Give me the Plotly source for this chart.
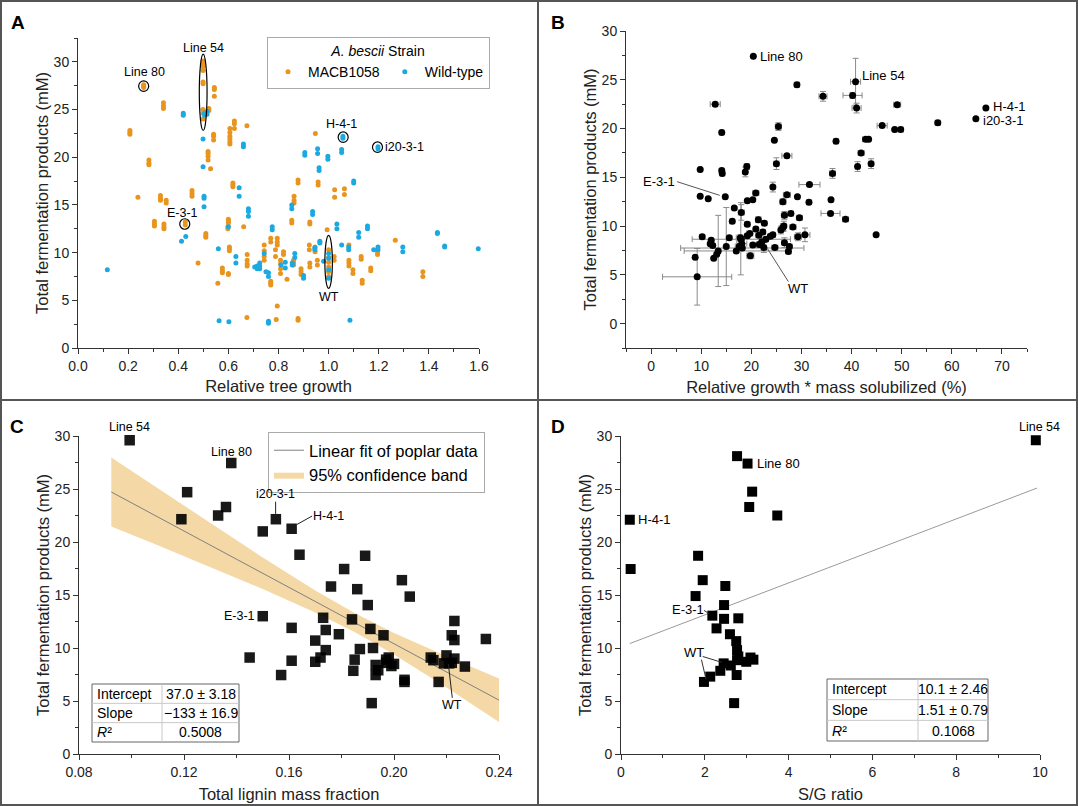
import plotly.graph_objects as go

W, H = 1078, 806
FONT = "Liberation Sans, Arial, sans-serif"
ORANGE = "#E9941D"
BLUE = "#1CA9E1"
AXC = "#333333"


def px(v):
    return v / W


def py(v):
    return 1 - v / H


# ---------------- Panel A data ----------------
a_mac_x = [
    0.207, 0.207, 0.207,
    0.239,
    0.262, 0.262, 0.262,
    0.283, 0.283, 0.283,
    0.305, 0.305, 0.305,
    0.329, 0.329, 0.329,
    0.341, 0.341, 0.341,
    0.343, 0.343, 0.343,
    0.352, 0.352,
    0.428, 0.428,
    0.455, 0.455, 0.455,
    0.479,
    0.499, 0.499, 0.499, 0.499, 0.499, 0.499, 0.499, 0.499, 0.499,
    0.522, 0.522,
    0.544, 0.544, 0.544,
    0.541, 0.541, 0.541,
    0.519, 0.519, 0.519, 0.519,
    0.529,
    0.510, 0.510, 0.510,
    0.558,
    0.576, 0.576, 0.576,
    0.600, 0.600, 0.600,
    0.598, 0.598,
    0.604, 0.604, 0.604,
    0.600, 0.600,
    0.606, 0.606, 0.606, 0.606, 0.606, 0.606,
    0.624, 0.624, 0.624,
    0.618, 0.618, 0.618,
    0.661,
    0.674,
    0.675, 0.675, 0.675, 0.675,
    0.674,
    0.743, 0.743, 0.743, 0.743,
    0.769, 0.769,
    0.795, 0.795, 0.795,
    0.788, 0.788,
    0.769, 0.769, 0.769,
    0.808, 0.808, 0.808, 0.808,
    0.820, 0.820,
    0.834,
    0.795,
    0.791,
    0.878, 0.878,
    0.862, 0.862, 0.862,
    0.853, 0.853,
    0.878, 0.878,
    0.860, 0.860, 0.860,
    0.890, 0.890, 0.890,
    0.923, 0.923,
    0.925, 0.925,
    0.958, 0.958,
    0.925, 0.925,
    0.946, 0.946,
    0.955, 0.955,
    0.947,
    0.994,
    1.000, 1.000, 1.000, 1.000, 1.000, 1.000,
    1.022, 1.022,
    1.024, 1.024,
    1.063, 1.063,
    1.081, 1.081, 1.081, 1.081,
    1.097, 1.097,
    1.130, 1.130,
    1.134, 1.134,
    1.168, 1.168,
    1.195, 1.195,
    1.266,
    1.376, 1.376,
]
a_mac_y = [
    22.8, 22.6, 22.4,
    15.8,
    27.3, 27.5, 27.6,
    19.7, 19.4, 19.2,
    13.3, 13.0, 12.8,
    16.0, 15.7, 15.5,
    25.7, 25.4, 25.1,
    13.0, 12.7, 12.5,
    15.5, 15.2,
    13.2, 12.9,
    16.5, 16.2, 15.9,
    8.9,
    30.1, 29.8, 29.5, 29.1, 27.9, 27.7, 25.0, 24.6, 24.0,
    25.1, 24.9,
    27.3, 27.1, 26.4,
    22.4, 22.2, 21.8,
    20.6, 20.4, 20.1, 19.7,
    18.8,
    12.0, 11.8, 11.6,
    6.8,
    8.4, 8.1, 7.9,
    13.5, 13.3, 13.1,
    12.7, 12.5,
    10.6, 10.4, 10.2,
    7.8, 7.7,
    23.0, 22.6, 22.2, 21.9, 21.6, 21.4,
    23.8, 23.5, 23.0,
    17.3, 17.1, 16.9,
    12.7,
    23.3,
    9.8, 9.2, 8.8, 8.6,
    3.2,
    10.8, 10.2, 9.6, 9.2,
    11.5, 11.1,
    11.5, 11.1, 10.8,
    10.3, 9.6,
    7.0, 6.8, 6.6,
    9.2, 8.8, 8.3, 7.8,
    10.1, 9.8,
    7.2,
    4.4,
    3.0,
    17.6, 17.3,
    15.9, 15.5, 15.2,
    13.4, 13.1,
    3.1, 2.9,
    9.2, 8.9, 8.7,
    8.3, 8.0, 7.7,
    10.8, 10.3,
    8.9, 8.5,
    17.4, 17.1,
    13.2, 13.0,
    10.6, 10.1,
    9.2, 8.7,
    22.5,
    12.4,
    10.3, 9.5, 9.0, 8.5, 8.0, 7.5,
    9.6, 9.2,
    16.6, 15.8,
    16.7, 16.1,
    10.8, 9.2, 8.9, 8.6,
    8.2, 7.8,
    9.6, 9.3,
    7.1, 6.8,
    8.4, 8.1,
    10.0, 9.8,
    11.3,
    8.0, 7.5,
]

a_wt_x = [
    0.117,
    0.420, 0.420,
    0.413,
    0.430,
    0.499, 0.499,
    0.503, 0.503, 0.503,
    0.505, 0.505,
    0.515, 0.515,
    0.560,
    0.563,
    0.602,
    0.600,
    0.630, 0.630,
    0.643, 0.643,
    0.660, 0.660,
    0.680, 0.680, 0.680,
    0.705,
    0.715, 0.715,
    0.725, 0.725, 0.725,
    0.743,
    0.750,
    0.760, 0.760,
    0.760, 0.760,
    0.775, 0.775,
    0.810,
    0.827, 0.827,
    0.853, 0.853,
    0.855, 0.855,
    0.865, 0.865,
    0.900, 0.900,
    0.905, 0.905,
    0.936, 0.936,
    0.945, 0.945,
    0.956, 0.956,
    0.962, 0.962,
    0.965, 0.965,
    0.980,
    0.997, 0.997,
    1.000, 1.000, 1.000, 1.000,
    1.033, 1.033,
    1.052, 1.052,
    1.057, 1.057,
    1.052,
    1.080, 1.080,
    1.085,
    1.100, 1.100,
    1.120, 1.120,
    1.155, 1.155,
    1.180,
    1.197, 1.197,
    1.197, 1.197,
    1.296, 1.296,
    1.434, 1.434,
    1.463, 1.463,
    1.597,
]
a_wt_y = [
    8.2,
    24.6, 24.4,
    11.2,
    11.7,
    21.9, 19.0,
    15.9, 15.7, 14.8,
    24.6, 24.4,
    24.8, 24.5,
    10.4,
    2.85,
    2.75,
    12.7,
    9.6, 8.9,
    16.8, 15.9,
    21.4, 21.1,
    14.6, 14.3, 13.8,
    8.5,
    8.6, 8.3,
    8.9, 8.6, 8.3,
    9.9,
    8.0,
    7.9, 7.5,
    2.8, 2.6,
    12.7, 12.4,
    8.7,
    9.0, 8.4,
    15.0, 14.6,
    8.9, 8.7,
    9.9, 9.5,
    7.6, 7.3,
    20.5, 20.2,
    14.3, 14.0,
    10.5, 10.3,
    20.9, 20.4,
    18.9, 18.6,
    11.2, 11.0,
    9.1,
    20.1, 19.8,
    9.9, 9.4, 8.2, 7.3,
    13.0, 12.5,
    20.8, 20.5,
    22.2, 22.0,
    10.8,
    10.6, 10.3,
    2.9,
    17.5, 17.3,
    12.1, 11.6,
    12.8, 12.5,
    10.3,
    21.1, 20.9,
    10.6, 10.3,
    10.6, 10.1,
    12.1, 12.0,
    10.7, 10.6,
    10.4,
]

# ---------------- Panel B data ----------------
b_x = [20.4, 29.1, 40.8, 34.3, 40.2, 41.0, 49.1, 12.8, 66.8, 64.8,
       57.2, 46.1, 48.6, 49.8, 25.4, 14.1, 36.9, 24.6, 42.8, 43.4,
       27.1, 41.9, 25.0, 43.9, 41.2, 19.1, 18.8, 9.8, 14.1, 14.2,
       36.2, 31.6, 24.3, 9.8, 11.4, 14.8, 20.9, 27.1, 29.2, 19.2,
       20.3, 26.3, 31.5, 35.9, 35.8, 38.8, 44.9, 16.6, 18.0, 16.2,
       15.6, 13.4, 15.0, 17.9, 9.2, 18.0, 18.2, 17.0, 10.2, 12.0,
       12.3, 11.8, 12.5, 13.1, 8.8, 17.8, 18.1, 17.6, 19.2, 19.2,
       19.7, 19.8, 20.3, 20.9, 21.4, 21.5, 21.6, 22.1, 22.3, 22.6,
       22.5, 22.9, 23.8, 24.3, 24.7, 25.9, 26.3, 26.5, 26.6, 27.9,
       28.3, 26.6, 27.6, 27.4, 29.6, 29.3, 30.7]
b_y = [27.4, 24.5, 24.8, 23.3, 23.4, 22.1, 22.45, 22.5, 22.1, 21.0,
       20.6, 20.3, 19.9, 19.9, 20.2, 19.6, 18.7, 18.8, 18.9, 18.9,
       17.2, 17.5, 16.4, 16.4, 16.1, 16.1, 15.55, 15.8, 15.7, 15.4,
       15.4, 14.25, 14.0, 13.05, 12.8, 13.0, 13.4, 13.2, 13.0, 12.6,
       12.7, 12.5, 12.45, 12.7, 11.3, 10.7, 9.1, 11.85, 11.4, 10.5,
       8.8, 7.45, 7.9, 8.7, 4.8, 8.65, 7.75, 7.45, 8.9, 8.55,
       8.0, 8.2, 6.7, 7.1, 6.8, 8.8, 8.2, 7.9, 10.2, 9.0,
       9.25, 6.95, 8.05, 9.7, 10.65, 9.05, 8.1, 8.4, 9.4, 10.3,
       7.8, 8.65, 8.95, 9.1, 7.8, 9.6, 9.85, 10.0, 11.1, 11.3,
       9.9, 8.3, 7.9, 7.4, 10.85, 8.9, 9.1]
b_ex = [0.0, 0.5, 1.0, 0.8, 1.9, 0.9, 0.7, 1.0, 0.3, 0.0,
        0.5, 1.0, 0.3, 0.5, 0.6, 0.4, 0.5, 0.3, 0.6, 0.4,
        1.0, 0.6, 0.5, 0.5, 0.4, 0.5, 0.4, 0.3, 0.4, 0.4,
        0.6, 2.1, 0.4, 0.3, 0.3, 0.3, 0.6, 0.7, 0.3, 0.4,
        0.3, 0.6, 0.4, 0.3, 1.9, 0.6, 0.3, 0.3, 0.6, 0.4,
        0.5, 0.4, 0.4, 0.5, 6.9, 9.8, 12.3, 10.4, 0.5, 0.4,
        0.4, 0.3, 0.3, 0.3, 0.3, 0.8, 1.0, 0.8, 0.5, 0.5,
        0.6, 0.7, 0.5, 0.4, 0.5, 0.6, 0.6, 0.5, 0.5, 0.5,
        0.5, 0.5, 0.5, 0.5, 0.6, 0.5, 0.5, 0.5, 0.6, 0.5,
        0.6, 0.5, 0.5, 0.5, 0.6, 0.7, 1.0]
b_ey = [0.0, 0.2, 2.4, 0.5, 0.3, 0.5, 0.2, 0.2, 0.0, 0.0,
        0.2, 0.2, 0.1, 0.2, 0.4, 0.2, 0.2, 0.1, 0.1, 0.1,
        0.2, 0.2, 0.6, 0.5, 0.5, 0.3, 0.5, 0.1, 0.2, 0.2,
        0.5, 0.2, 0.5, 0.1, 0.1, 0.1, 0.2, 0.2, 0.1, 0.1,
        0.1, 0.3, 0.2, 0.1, 0.2, 0.1, 0.1, 0.1, 0.8, 0.2,
        0.2, 3.65, 4.0, 3.7, 2.9, 0.2, 0.2, 0.2, 0.2, 0.2,
        0.2, 0.1, 0.1, 0.1, 0.1, 0.3, 0.3, 0.2, 0.2, 0.2,
        0.2, 0.3, 0.2, 0.2, 0.3, 0.2, 0.3, 0.2, 0.2, 0.2,
        0.5, 0.2, 0.2, 0.2, 0.2, 0.4, 0.4, 0.5, 0.4, 0.2,
        0.2, 0.5, 0.2, 0.2, 0.2, 0.4, 0.7]

# ---------------- Panel C data ----------------
c_x = [0.0993, 0.138, 0.1212, 0.119, 0.136, 0.133, 0.155, 0.161, 0.150, 0.164,
       0.189, 0.181, 0.176, 0.186, 0.203, 0.206, 0.190, 0.150, 0.173, 0.184,
       0.161, 0.174, 0.179, 0.191, 0.196, 0.170, 0.174, 0.187, 0.192, 0.223,
       0.222, 0.223, 0.235, 0.145, 0.161, 0.170, 0.172, 0.157, 0.185, 0.1845,
       0.193, 0.193, 0.194, 0.197, 0.198, 0.197, 0.199, 0.200, 0.1915, 0.204,
       0.204, 0.214, 0.215, 0.217, 0.220, 0.219, 0.221, 0.222, 0.223, 0.227]
c_y = [29.6, 27.45, 24.7, 22.15, 23.3, 22.5, 22.15, 21.25, 21.0, 18.8,
       18.7, 17.45, 15.8, 15.55, 16.4, 14.85, 14.05, 13.0, 12.85, 12.7,
       11.9, 11.7, 11.3, 11.8, 11.2, 10.7, 9.8, 9.9, 10.0, 12.55,
       11.2, 10.75, 10.85, 9.1, 8.8, 8.7, 9.1, 7.45, 8.9, 7.85,
       8.4, 7.45, 7.9, 8.9, 9.1, 8.6, 8.3, 8.5, 4.8, 7.0,
       6.8, 9.1, 8.85, 6.8, 9.3, 8.55, 8.55, 8.6, 9.0, 8.25]
c_fit_x = [0.0923, 0.24]
c_fit_y = [24.72, 5.08]
c_band_x = [0.0923, 0.11, 0.13, 0.15, 0.17, 0.185, 0.20, 0.22, 0.24]
c_band_lo = [21.47, 19.69, 17.65, 15.57, 13.36, 11.5, 9.38, 6.27, 3.03]
c_band_hi = [27.97, 25.05, 21.77, 18.53, 15.42, 13.3, 11.42, 9.21, 7.13]

# ---------------- Panel D data ----------------
d_x = [9.9, 2.77, 3.02, 3.13, 3.06, 3.73, 0.21, 0.23, 1.84, 1.95,
       1.78, 2.49, 2.46, 2.18, 2.46, 2.80, 2.28, 2.60, 2.75, 2.77,
       2.80, 2.77, 3.09, 3.16, 2.99, 2.45, 2.62, 2.37, 2.13, 1.98,
       2.76, 2.70]
d_y = [29.6, 28.1, 27.4, 24.75, 23.3, 22.5, 22.1, 17.45, 18.7, 16.4,
       14.9, 15.85, 14.05, 13.05, 12.75, 12.8, 11.85, 11.3, 10.65, 9.8,
       9.2, 8.85, 9.1, 8.9, 8.7, 8.55, 8.35, 7.85, 7.3, 6.8,
       7.45, 4.8]
d_fit_x = [0.21, 9.93]
d_fit_y = [10.42, 25.09]

# tables
c_table = [["Intercept", "37.0 ± 3.18"], ["Slope", "\u2212133 ± 16.9"], ["<i>R</i>²", "0.5008"]]
d_table = [["Intercept", "10.1 ± 2.46"], ["Slope", "1.51 ± 0.79"], ["<i>R</i>²", "0.1068"]]

fig = go.Figure()

# Panel A
fig.add_trace(go.Scatter(x=a_mac_x, y=a_mac_y, mode="markers", name="MACB1058",
                         marker=dict(color=ORANGE, size=5), xaxis="x", yaxis="y",
                         cliponaxis=False))
fig.add_trace(go.Scatter(x=a_wt_x, y=a_wt_y, mode="markers", name="Wild-type",
                         marker=dict(color=BLUE, size=5), xaxis="x", yaxis="y",
                         cliponaxis=False))

# Panel B
fig.add_trace(go.Scatter(x=b_x, y=b_y, mode="markers", showlegend=False,
                         marker=dict(color="black", size=7),
                         error_x=dict(type="data", array=b_ex, color="#8a8a8a", thickness=1, width=3),
                         error_y=dict(type="data", array=b_ey, color="#8a8a8a", thickness=1, width=3),
                         xaxis="x2", yaxis="y2", cliponaxis=False))

# Panel C
fig.add_trace(go.Scatter(x=c_band_x + c_band_x[::-1], y=c_band_hi + c_band_lo[::-1],
                         fill="toself", fillcolor="#F4D8A6", line=dict(width=0, color="#F4D8A6"),
                         mode="lines", name="95% confidence band", legend="legend2",
                         legendrank=2, xaxis="x3", yaxis="y3", hoverinfo="skip"))
fig.add_trace(go.Scatter(x=c_fit_x, y=c_fit_y, mode="lines", name="Linear fit of poplar data",
                         line=dict(color="#808080", width=1), legend="legend2", legendrank=1,
                         xaxis="x3", yaxis="y3"))
fig.add_trace(go.Scatter(x=c_x, y=c_y, mode="markers", showlegend=False,
                         marker=dict(color="black", size=10.5, symbol="square", opacity=0.9,
                                     line=dict(width=0)),
                         xaxis="x3", yaxis="y3", cliponaxis=False))

# Panel D
fig.add_trace(go.Scatter(x=d_fit_x, y=d_fit_y, mode="lines", showlegend=False,
                         line=dict(color="#9a9a9a", width=1), xaxis="x4", yaxis="y4"))
fig.add_trace(go.Scatter(x=d_x, y=d_y, mode="markers", showlegend=False,
                         marker=dict(color="black", size=10, symbol="square", line=dict(width=0)),
                         xaxis="x4", yaxis="y4", cliponaxis=False))


def axis(domain, anchor, rng, tickvals, minor_dtick, title, standoff, fmt=None):
    d = dict(domain=domain, anchor=anchor, range=rng, tickvals=tickvals, automargin=False,
             showline=True, linecolor=AXC, linewidth=1, ticks="outside", ticklen=5,
             tickwidth=1, tickcolor=AXC, showgrid=False, zeroline=False,
             tickfont=dict(size=14, color="#222"),
             minor=dict(ticks="outside", ticklen=3, tickcolor=AXC, dtick=minor_dtick,
                        tick0=0, showgrid=False),
             title=dict(text=title, font=dict(size=16.5, color="#222"), standoff=standoff))
    if fmt:
        d["tickformat"] = fmt
    return d


YT = "Total fermentation products (mM)"
fig.update_layout(
    xaxis=axis([px(78), px(479)], "y", [0, 1.6], [0, 0.2, 0.4, 0.6, 0.8, 1.0, 1.2, 1.4, 1.6], 0.1,
               "Relative tree growth", 7, ".1f"),
    yaxis=axis([py(348), py(38)], "x", [0, 32.5], [0, 5, 10, 15, 20, 25, 30], 2.5, YT, 0),
    xaxis2=axis([px(626), px(1027)], "y2", [-5, 75], [0, 10, 20, 30, 40, 50, 60, 70], 5,
                "Relative growth * mass solubilized (%)", 8),
    yaxis2=axis([py(348), py(31)], "x2", [-2.5, 30], [0, 5, 10, 15, 20, 25, 30], 2.5, YT, 0),
    xaxis3=axis([px(79), px(499)], "y3", [0.08, 0.24], [0.08, 0.12, 0.16, 0.20, 0.24], 0.02,
                "Total lignin mass fraction", 9, ".2f"),
    yaxis3=axis([py(754), py(436)], "x3", [0, 30], [0, 5, 10, 15, 20, 25, 30], 2.5, YT, 0),
    xaxis4=axis([px(621), px(1040)], "y4", [0, 10], [0, 2, 4, 6, 8, 10], 1, "S/G ratio", 9),
    yaxis4=axis([py(754), py(436)], "x4", [0, 30], [0, 5, 10, 15, 20, 25, 30], 2.5, YT, 0),
)

shapes = []
annotations = []

# panel frame
shapes.append(dict(type="rect", xref="paper", yref="paper", x0=px(1), y0=py(805), x1=px(1077), y1=py(1),
                   line=dict(color="#555", width=2)))
shapes.append(dict(type="line", xref="paper", yref="paper", x0=px(538), x1=px(538), y0=0, y1=1,
                   line=dict(color="#555", width=2)))
shapes.append(dict(type="line", xref="paper", yref="paper", x0=0, x1=1, y0=py(400), y1=py(400),
                   line=dict(color="#555", width=2)))

# panel letters
for t, x, y in [("A", 18, 23), ("B", 558, 23), ("C", 17, 427), ("D", 558, 427)]:
    annotations.append(dict(text="<b>%s</b>" % t, xref="paper", yref="paper", x=px(x), y=py(y),
                            showarrow=False, font=dict(size=19, color="black"),
                            xanchor="center", yanchor="middle"))


def ell(xr, yr, x0, x1, y0, y1):
    return dict(type="circle", xref=xr, yref=yr, x0=x0, x1=x1, y0=y0, y1=y1,
                line=dict(color="black", width=1.2))


shapes += [
    ell("x", "y", 0.484, 0.515, 22.8, 30.8),
    ell("x", "y", 0.242, 0.282, 26.9, 28.0),
    ell("x", "y", 0.406, 0.446, 12.45, 13.55),
    ell("x", "y", 1.038, 1.078, 21.55, 22.65),
    ell("x", "y", 1.175, 1.215, 20.5, 21.6),
    ell("x", "y", 0.985, 1.015, 6.25, 11.8),
]


def lab(xr, yr, x, y, text, xanchor="center", size=12.5, yanchor="middle", yshift=0):
    return dict(text=text, xref=xr, yref=yr, x=x, y=y, showarrow=False,
                font=dict(size=size, color="black"), xanchor=xanchor, yanchor=yanchor,
                yshift=yshift, borderpad=0)


annotations += [
    lab("x", "y", 0.266, 28.9, "Line 80"),
    lab("x", "y", 0.5, 31.45, "Line 54"),
    lab("x", "y", 1.053, 23.5, "H-4-1"),
    lab("x", "y", 1.222, 21.05, "i20-3-1", "left"),
    lab("x", "y", 0.418, 14.15, "E-3-1"),
    lab("x", "y", 1.003, 5.35, "WT"),
]

# Panel B labels
annotations += [
    lab("x2", "y2", 21.6, 27.4, "Line 80", "left", 13),
    lab("x2", "y2", 41.9, 25.45, "Line 54", "left", 13),
    lab("x2", "y2", 68.1, 22.3, "H-4-1", "left", 13),
    lab("x2", "y2", 66.1, 20.8, "i20-3-1", "left", 13),
    lab("x2", "y2", 4.9, 14.55, "E-3-1", "right", 13),
    lab("x2", "y2", 29.4, 3.6, "WT", "center", 13),
]
shapes += [
    dict(type="line", xref="x2", yref="y2", x0=5.2, y0=14.55, x1=13.7, y1=13.15,
         line=dict(color="#555", width=1)),
    dict(type="line", xref="x2", yref="y2", x0=27.4, y0=4.3, x1=23.2, y1=7.7,
         line=dict(color="#555", width=1)),
]

# Panel C labels
annotations += [
    lab("x3", "y3", 0.0993, 30.0, "Line 54", yanchor="bottom", yshift=1),
    lab("x3", "y3", 0.138, 28.5, "Line 80"),
    lab("x3", "y3", 0.1548, 24.5, "i20-3-1"),
    lab("x3", "y3", 0.1688, 22.5, "H-4-1", "left"),
    lab("x3", "y3", 0.1474, 13.0, "E-3-1", "right"),
    lab("x3", "y3", 0.2222, 4.6, "WT"),
]
shapes += [
    dict(type="line", xref="x3", yref="y3", x0=0.1549, y0=23.8, x1=0.1549, y1=22.65,
         line=dict(color="#222", width=1)),
    dict(type="line", xref="x3", yref="y3", x0=0.1688, y0=22.45, x1=0.1630, y1=21.65,
         line=dict(color="#222", width=1)),
    dict(type="line", xref="x3", yref="y3", x0=0.2222, y0=5.3, x1=0.2207, y1=8.5,
         line=dict(color="#222", width=1)),
]

# Panel D labels
annotations += [
    lab("x4", "y4", 9.98, 30.0, "Line 54", yanchor="bottom", yshift=1),
    lab("x4", "y4", 3.21, 27.4, "Line 80", "left", 13),
    lab("x4", "y4", 0.37, 22.1, "H-4-1", "left", 13),
    lab("x4", "y4", 2.0, 13.6, "E-3-1", "right", 13),
    lab("x4", "y4", 1.74, 9.55, "WT", "center", 13),
]
shapes += [
    dict(type="line", xref="x4", yref="y4", x0=1.98, y0=13.55, x1=2.1, y1=13.25,
         line=dict(color="#333", width=1)),
    dict(type="line", xref="x4", yref="y4", x0=1.95, y0=9.2, x1=2.4, y1=8.65,
         line=dict(color="#333", width=1)),
    dict(type="line", xref="x4", yref="y4", x0=1.92, y0=8.9, x1=2.03, y1=7.05,
         line=dict(color="#333", width=1)),
]


def table(rows, left, top, right, bottom, div):
    n = len(rows)
    hgt = (bottom - top) / n
    out_s = [dict(type="rect", xref="paper", yref="paper", x0=px(left), x1=px(right),
                  y0=py(bottom), y1=py(top), line=dict(color="#666", width=1), fillcolor="white",
                  layer="above")]
    out_s.append(dict(type="line", xref="paper", yref="paper", x0=px(div), x1=px(div),
                      y0=py(bottom), y1=py(top), line=dict(color="#c8c8c8", width=1)))
    out_a = []
    for i, (k, v) in enumerate(rows):
        yc = top + hgt * (i + 0.5)
        if i > 0:
            out_s.append(dict(type="line", xref="paper", yref="paper", x0=px(left), x1=px(right),
                              y0=py(top + hgt * i), y1=py(top + hgt * i),
                              line=dict(color="#c8c8c8", width=1)))
        out_a.append(dict(text=k, xref="paper", yref="paper", x=px(left + 3), y=py(yc),
                          showarrow=False, xanchor="left", yanchor="middle",
                          font=dict(size=14, color="black")))
        out_a.append(dict(text=v, xref="paper", yref="paper", x=px((div + right) / 2), y=py(yc),
                          showarrow=False, xanchor="center", yanchor="middle",
                          font=dict(size=14, color="black")))
    return out_s, out_a


s, a = table(c_table, 92, 684, 239, 742, 162)
shapes += s
annotations += a
s, a = table(d_table, 827, 679, 988, 741, 918)
shapes += s
annotations += a

fig.update_layout(
    width=W, height=H,
    margin=dict(l=0, r=0, t=0, b=0, autoexpand=False),
    paper_bgcolor="white", plot_bgcolor="white",
    font=dict(family=FONT, color="#222"),
    shapes=shapes, annotations=annotations,
    legend=dict(x=px(267), y=py(37), xanchor="left", yanchor="top", orientation="h",
                bgcolor="white", bordercolor="#aaa", borderwidth=1,
                font=dict(size=14, color="black"), itemsizing="trace",
                title=dict(text="<i>A. bescii</i> Strain", side="top center",
                           font=dict(size=14, color="black"))),
    legend2=dict(x=px(268), y=py(432), xanchor="left", yanchor="top",
                 bgcolor="white", bordercolor="#aaa", borderwidth=1,
                 font=dict(size=16.5, color="black"), tracegroupgap=0),
    showlegend=True,
)

fig.write_html("out.html", config={"displayModeBar": False},
               post_script="document.body.style.margin='0px';")
